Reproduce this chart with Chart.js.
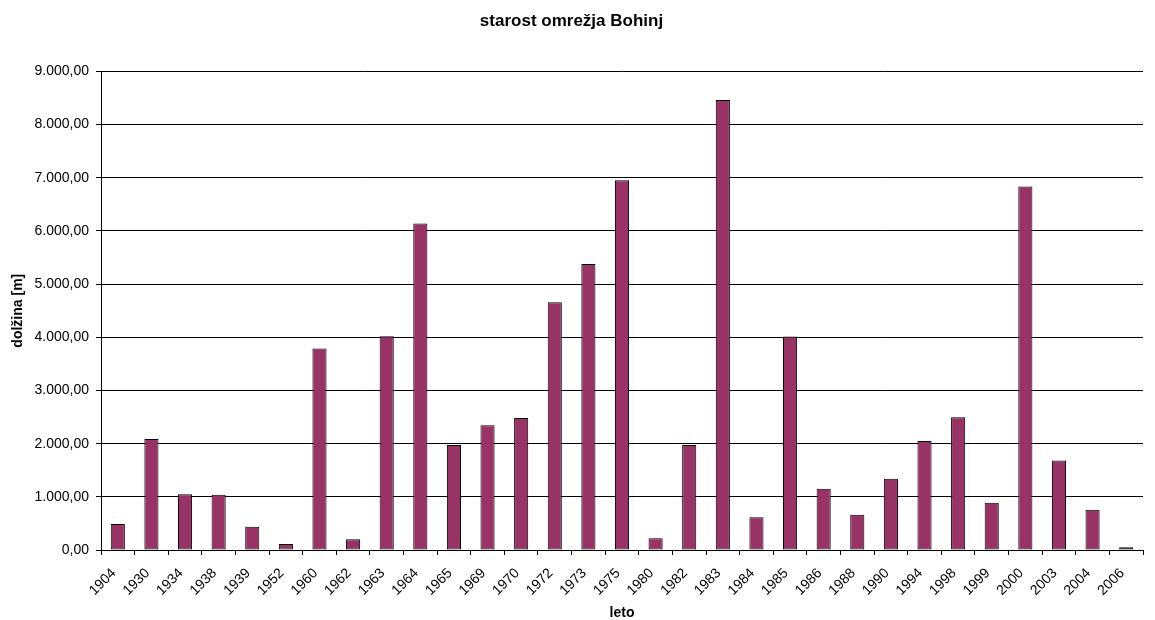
<!DOCTYPE html>
<html>
<head>
<meta charset="utf-8">
<title>starost omrežja Bohinj</title>
<script src="https://cdn.jsdelivr.net/npm/chart.js@4/dist/chart.umd.min.js"></script>
<style>
  body { margin: 0; background: #fff; }
  canvas { display: block; }
</style>
</head>
<body>
<canvas id="myChart" width="1155" height="620"></canvas>
<script>
const years = [
  "1904", "1930", "1934", "1938", "1939", "1952", "1960", "1962", "1963", "1964",
  "1965", "1969", "1970", "1972", "1973", "1975", "1980", "1982", "1983", "1984",
  "1985", "1986", "1988", "1990", "1994", "1998", "1999", "2000", "2003", "2004",
  "2006",
];
const lengths = [
  487, 2087, 1050, 1037, 437, 115, 3790, 200, 4020, 6140,
  1975, 2345, 2483, 4658, 5376, 6951, 220, 1976, 8463, 615,
  4015, 1154, 664, 1341, 2049, 2494, 890, 6836, 1685, 758,
  50,
];
const yMin = 0;
const yMax = 9000;
const yStep = 1000;

const titleText = "starost omrežja Bohinj";
const xTitle = "leto";
const yTitle = "dolžina [m]";

// 9000 -> "9.000,00"
const fmt = (v) => {
  const parts = Math.round(v).toString().replace(/\B(?=(\d{3})+(?!\d))/g, ".");
  return parts + ",00";
};

const FONT = "'Liberation Sans', Arial, sans-serif";
const ctx = document.getElementById("myChart");

new Chart(ctx, {
  type: "bar",
  data: {
    labels: years,
    datasets: [
      {
        data: lengths,
        backgroundColor: "#993366",
        borderColor: "#000000",
        borderWidth: 1,
        borderSkipped: false,
        barPercentage: 0.42,
        categoryPercentage: 1,
      },
    ],
  },
  options: {
    responsive: false,
    animation: false,
    layout: { padding: { top: 0, right: 12, bottom: 0, left: 0 } },
    plugins: {
      legend: { display: false },
      tooltip: { enabled: false },
      title: {
        display: true,
        text: titleText,
        color: "#000",
        font: { family: FONT, size: 17, weight: "bold" },
        padding: { top: 11, bottom: 40 },
      },
    },
    scales: {
      x: {
        grid: {
          drawOnChartArea: false,
          drawTicks: true,
          tickLength: 5,
          color: "#000",
          offset: true,
        },
        border: { color: "#000", width: 1 },
        ticks: {
          autoSkip: false,
          minRotation: 45,
          maxRotation: 45,
          color: "#000",
          padding: 10,
          labelOffset: -4,
          font: { family: FONT, size: 14 },
        },
        title: {
          display: true,
          text: xTitle,
          color: "#000",
          font: { family: FONT, size: 14, weight: "bold" },
          padding: { top: 0, bottom: -2 },
        },
        afterFit: (scale) => {
          scale.height = 70;
        },
      },
      y: {
        min: yMin,
        max: yMax,
        grid: {
          color: "#000",
          lineWidth: 1,
          tickLength: 5,
        },
        border: { color: "#000", width: 1 },
        ticks: {
          stepSize: yStep,
          color: "#000",
          padding: 7,
          font: { family: FONT, size: 14 },
          callback: (v) => fmt(v),
        },
        title: {
          display: true,
          text: yTitle,
          color: "#000",
          font: { family: FONT, size: 14, weight: "bold" },
          padding: { top: 10, bottom: 0 },
        },
        afterFit: (scale) => {
          scale.width = 101;
        },
      },
    },
  },
});
</script>
</body>
</html>
